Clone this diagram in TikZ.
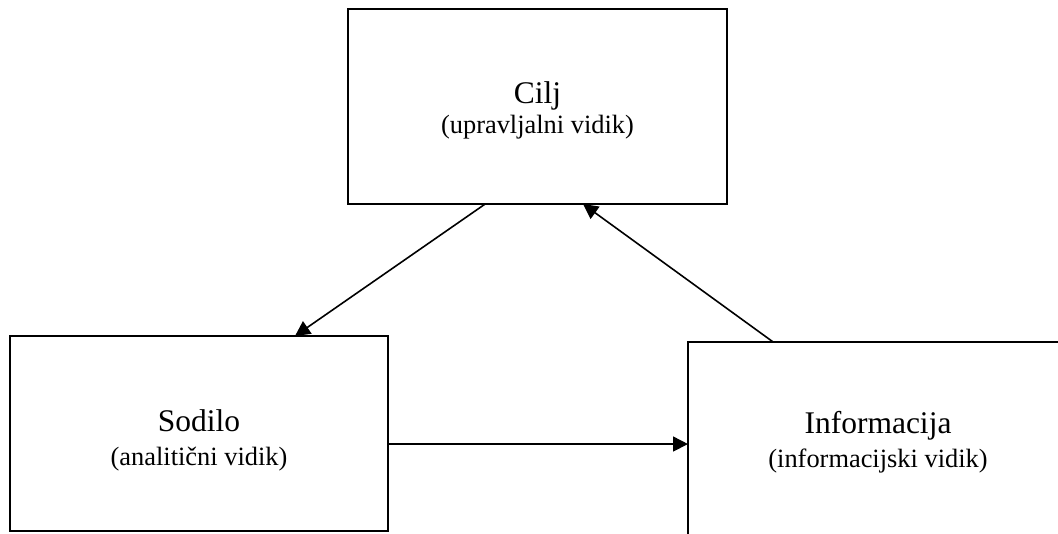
\documentclass[tikz,border=0pt]{standalone}
\usepackage{fontspec}
\setmainfont{Liberation Serif}
\usetikzlibrary{arrows.meta,calc}
\begin{document}
\begin{tikzpicture}[x=1pt,y=-1pt,
  box/.style={draw=black, line width=1.8pt, inner sep=0pt, outer sep=0pt, fill=white},
  txt/.style={align=center, inner sep=0pt, font=\fontsize{26.4}{30}\selectfont},
  conn/.style={line width=1.6pt, -{Triangle[length=15pt,width=15pt]}},
]
\newcommand{\mainfs}{\fontsize{31.5}{30}\selectfont}
\newcommand{\subfs}{\fontsize{26.4}{30}\selectfont}
\useasboundingbox[fill=white] (0,0) rectangle (1058,534);

\node[box, minimum width=379pt, minimum height=195pt,
  label={[txt, yshift=-3.5pt]center:{\mainfs Cilj}\\{\subfs (upravljalni vidik)}}]
  (cilj) at (537.5,106.5) {};
\node[box, minimum width=378pt, minimum height=195pt,
  label={[txt, yshift=-7pt]center:{\mainfs Sodilo}\\[4pt]{\subfs (analitični vidik)}}]
  (sodilo) at (199,433.5) {};
\node[box, minimum width=380pt, minimum height=196pt,
  label={[txt, yshift=-2.5pt]center:{\mainfs Informacija}\\[4pt]{\subfs (informacijski vidik)}}]
  (info) at (878,440) {};

\coordinate (c1) at ($(cilj.south west)!0.362!(cilj.south east)$);
\coordinate (s1) at ($(sodilo.north west)!0.754!(sodilo.north east)$);
\coordinate (c2) at ($(cilj.south west)!0.62!(cilj.south east)$);
\coordinate (i1) at ($(info.north west)!0.224!(info.north east)$);
\coordinate (s2) at ($(sodilo.north east)!0.554!(sodilo.south east)$);

\draw[conn] (c1) -- (s1);
\draw[conn] (i1) -- (c2);
\draw[conn] (s2) -- (s2 -| info.west);
\end{tikzpicture}
\end{document}
